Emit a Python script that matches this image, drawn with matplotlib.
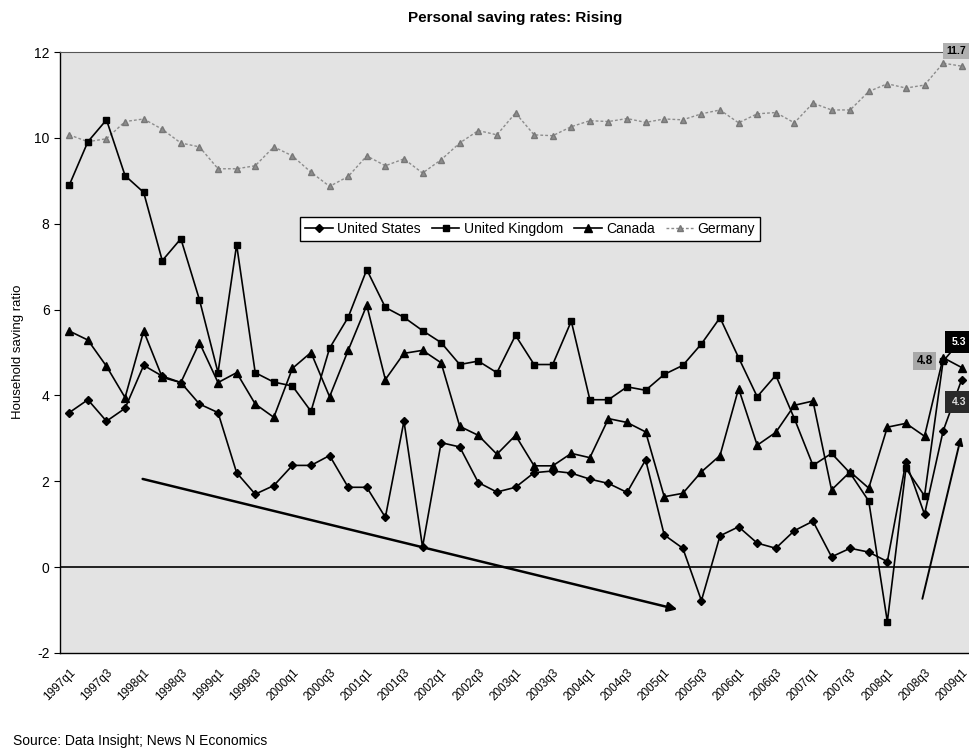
import matplotlib
matplotlib.use("Agg")
import matplotlib.pyplot as plt
import numpy as np

plt.rcParams['font.family'] = ['Liberation Sans', 'DejaVu Sans']

title = "Personal saving rates: Rising"
ylabel = "Household saving ratio"
source = "Source: Data Insight; News N Economics"

tick_labels = ["1997q1", "1997q3", "1998q1", "1998q3", "1999q1", "1999q3", "2000q1",
               "2000q3", "2001q1", "2001q3", "2002q1", "2002q3", "2003q1", "2003q3",
               "2004q1", "2004q3", "2005q1", "2005q3", "2006q1", "2006q3", "2007q1",
               "2007q3", "2008q1", "2008q3", "2009q1"]

us = [3.6, 3.9, 3.4, 3.7, 4.7, 4.45, 4.3, 3.8, 3.6, 2.2, 1.7, 1.9, 2.37, 2.37, 2.6,
      1.86, 1.86, 1.16, 3.4, 0.47, 2.9, 2.8, 1.97, 1.75, 1.86, 2.2, 2.24, 2.19, 2.05,
      1.95, 1.74, 2.5, 0.75, 0.44, -0.78, 0.73, 0.94, 0.56, 0.44, 0.85, 1.07, 0.24,
      0.44, 0.35, 0.13, 2.45, 1.23, 3.17, 4.37]
uk = [8.9, 9.91, 10.42, 9.12, 8.73, 7.14, 7.65, 6.23, 4.53, 7.51, 4.53, 4.31, 4.22,
      3.63, 5.1, 5.82, 6.93, 6.05, 5.82, 5.51, 5.23, 4.72, 4.8, 4.53, 5.4, 4.72, 4.72,
      5.73, 3.9, 3.9, 4.2, 4.12, 4.49, 4.7, 5.2, 5.81, 4.88, 3.97, 4.47, 3.46, 2.37,
      2.65, 2.19, 1.54, -1.27, 2.3, 1.66, 4.8, 5.3]
canada = [5.5, 5.29, 4.68, 3.95, 5.5, 4.42, 4.3, 5.23, 4.3, 4.53, 3.8, 3.49, 4.63,
          5.0, 3.97, 5.05, 6.1, 4.37, 4.98, 5.05, 4.76, 3.28, 3.07, 2.63, 3.07, 2.36,
          2.36, 2.65, 2.55, 3.46, 3.37, 3.15, 1.64, 1.72, 2.22, 2.6, 4.16, 2.84, 3.14,
          3.77, 3.87, 1.8, 2.22, 1.84, 3.26, 3.35, 3.05, 4.88, 4.65]
germany = [10.07, 9.91, 9.98, 10.38, 10.44, 10.2, 9.88, 9.79, 9.28, 9.28, 9.35, 9.79,
           9.58, 9.2, 8.87, 9.1, 9.58, 9.35, 9.51, 9.18, 9.49, 9.88, 10.17, 10.07,
           10.58, 10.07, 10.05, 10.26, 10.4, 10.38, 10.45, 10.36, 10.44, 10.42, 10.56,
           10.65, 10.35, 10.56, 10.59, 10.35, 10.81, 10.65, 10.65, 11.08, 11.26, 11.16,
           11.23, 11.74, 11.67]

# annotation arrows (start, end) in data coords
arrow1 = [(3.8, 2.07), (32.85, -1.0)]
arrow2 = [(45.85, -0.8), (48.0, 3.1)]

fig = plt.figure(figsize=(9.69, 7.53), dpi=100)
ax = fig.add_axes([60/969, 100/753, 911/969, 601/753])
ax.set_facecolor('#e3e3e3')

x = np.arange(len(us))
ax.plot(x, germany, color='#8c8c8c', lw=1.0, ls=(0, (2, 1.5)), marker='^', ms=4.5,
        mfc='#8c8c8c', mec='#777777', label='Germany', zorder=2)
ax.plot(x, us, color='black', lw=1.2, marker='D', ms=4.5, label='United States', zorder=3)
ax.plot(x, uk, color='black', lw=1.2, marker='s', ms=5, label='United Kingdom', zorder=3)
ax.plot(x, canada, color='black', lw=1.2, marker='^', ms=5.5, label='Canada', zorder=3)

ax.axhline(0, color='black', lw=1.2, zorder=1)

ax.annotate('', xy=arrow1[1], xytext=arrow1[0],
            arrowprops=dict(arrowstyle='-|>', color='black', lw=1.8, mutation_scale=14))
ax.annotate('', xy=arrow2[1], xytext=arrow2[0],
            arrowprops=dict(arrowstyle='-|>', color='black', lw=1.4, mutation_scale=12))

ax.set_xlim(-0.5, 48.5)
ax.set_ylim(-2, 12)
ax.set_yticks(range(-2, 13, 2))
ax.set_yticklabels([str(v) for v in range(-2, 13, 2)], fontsize=10)
ax.set_xticks(range(0, 49, 2))
ax.set_xticklabels(tick_labels, rotation=45, ha='right', rotation_mode='anchor', fontsize=8.5)
ax.tick_params(axis='x', length=0, pad=10)
ax.tick_params(axis='y', length=4, direction='out', width=0.8)

ax.spines['right'].set_visible(False)
ax.spines['top'].set_linestyle((0, (1, 1)))
ax.spines['top'].set_color('#555555')
ax.spines['left'].set_linewidth(1.0)
ax.spines['bottom'].set_linewidth(1.0)

handles, labels = ax.get_legend_handles_labels()
order = [1, 2, 3, 0]
leg = ax.legend([handles[i] for i in order], [labels[i] for i in order], ncol=4,
                loc='center', bbox_to_anchor=(0.516, 0.705), fontsize=10,
                frameon=True, fancybox=False, edgecolor='black', facecolor='white',
                framealpha=1, handlelength=2.0, handletextpad=0.3, columnspacing=0.8,
                borderpad=0.35)
leg.get_frame().set_linewidth(1.0)

# data labels at the right edge
ax.text(46.0, 4.8, '4.8', fontsize=8.5, fontweight='bold', ha='center', va='center',
        bbox=dict(boxstyle='square,pad=0.25', fc='#a8a8a8', ec='none'), zorder=4)
fig.text(966/969, 1 - 342/753, '5.3', fontsize=7.5, fontweight='bold', color='white',
         ha='right', va='center',
         bbox=dict(boxstyle='square,pad=0.6', fc='black', ec='none'), zorder=4)
fig.text(966/969, 1 - 402/753, '4.3', fontsize=7.5, fontweight='bold', color='#dddddd',
         ha='right', va='center',
         bbox=dict(boxstyle='square,pad=0.6', fc='#2a2a2a', ec='none'), zorder=4)
fig.text(966/969, 1 - 51/753, '11.7', fontsize=7.5, fontweight='bold', color='black',
         ha='right', va='center',
         bbox=dict(boxstyle='square,pad=0.3', fc='#b0b0b0', ec='none'), zorder=4)

fig.text(515/969, 1 - 18/753, title, ha='center', va='center', fontsize=11,
         fontweight='bold')
fig.text(18/969, 1 - 352/753, ylabel, ha='center', va='center', rotation=90,
         fontsize=9.5)
fig.text(13/969, 1 - 741/753, source, ha='left', va='center', fontsize=10)

fig.savefig('out.png', dpi=100)
